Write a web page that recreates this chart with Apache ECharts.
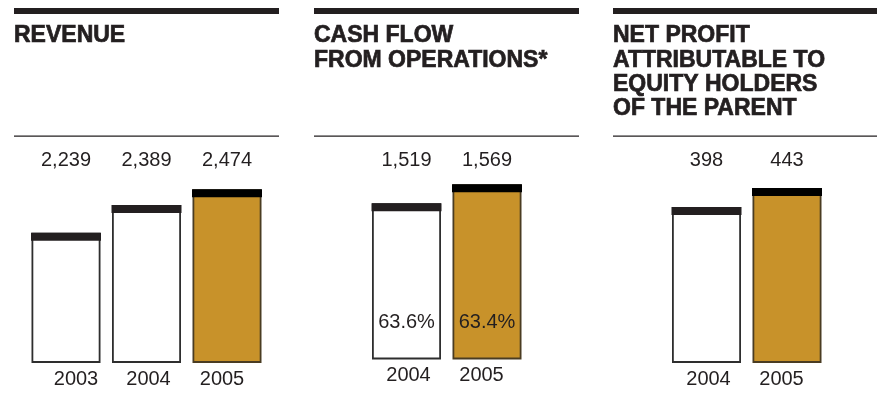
<!DOCTYPE html>
<html>
<head>
<meta charset="utf-8">
<script src="https://cdn.jsdelivr.net/npm/echarts@6/dist/echarts.min.js"></script>
<style>
  html, body { margin: 0; padding: 0; background: #fff; }
  #main { width: 877px; height: 394px; }
</style>
</head>
<body>
<div id="main"></div>
<script>
// Key figures, one small chart per measure
const revenueYears = ['2003', '2004', '2005'];
const revenueValues = [2239, 2389, 2474];

const cashFlowYears = ['2004', '2005'];
const cashFlowValues = [1519, 1569];
const cashFlowMargins = [63.6, 63.4];

const netProfitYears = ['2004', '2005'];
const netProfitValues = [398, 443];

const panelTitles = [
  'REVENUE',
  'CASH FLOW\nFROM OPERATIONS*',
  'NET PROFIT\nATTRIBUTABLE TO\nEQUITY HOLDERS\nOF THE PARENT'
];

const INK = '#231f20';
const GOLD = '#c8922a';
const GOLD_EDGE = '#4a3c22';
const FONT = 'Liberation Sans';
const H = 394;

const panels = [
  { years: revenueYears, values: revenueValues, left: 25.75, width: 241.5, base: 362,
    min: 1540, max: 2568, ruleX: 14, ruleW: 265, shifts: [10, 2, -5] },
  { years: cashFlowYears, values: cashFlowValues, left: 366.25, width: 161, base: 358.5,
    min: 1110, max: 1601, ruleX: 314, ruleW: 265, shifts: [2, -5.5], margins: cashFlowMargins },
  { years: netProfitYears, values: netProfitValues, left: 666.25, width: 161, base: 362,
    min: 31, max: 481, ruleX: 613, ruleW: 264, shifts: [2, -5.5] }
];

const fmt = v => v.toLocaleString('en-US');

const grid = [], xAxis = [], yAxis = [], series = [], title = [], graphic = [];

panels.forEach((p, i) => {
  const last = p.values.length - 1;
  const GRID_TOP = 172;
  grid.push({ left: p.left, width: p.width, top: GRID_TOP, bottom: H - p.base });

  // rich styles nudge each year label sideways
  const rich = {};
  p.shifts.forEach((s, k) => {
    rich['s' + k] = {
      fontFamily: FONT, fontSize: 20, color: INK,
      padding: s >= 0 ? [0, 0, 0, 2 * s] : [0, -2 * s, 0, 0]
    };
  });

  xAxis.push({
    type: 'category', gridIndex: i, data: p.years, position: 'bottom',
    axisLine: { show: false }, axisTick: { show: false },
    axisLabel: {
      margin: 7, interval: 0,
      formatter: (val, idx) => '{s' + idx + '|' + val + '}',
      rich
    }
  });
  xAxis.push({
    type: 'category', gridIndex: i, data: p.values.map(fmt), position: 'top',
    axisLine: { show: false }, axisTick: { show: false },
    axisLabel: { margin: 2, interval: 0, fontFamily: FONT, fontSize: 20, color: INK }
  });
  yAxis.push({ type: 'value', gridIndex: i, min: p.min, max: p.max, show: false, splitLine: { show: false } });

  series.push({
    type: 'bar', xAxisIndex: 2 * i, yAxisIndex: i, barWidth: 69, z: 2,
    data: p.values.map((v, k) => ({
      value: v,
      itemStyle: k === last
        ? { color: GOLD, borderColor: GOLD_EDGE, borderWidth: 1.8 }
        : { color: '#ffffff', borderColor: '#2e2e2e', borderWidth: 1.8 }
    })),
    label: p.margins ? {
      show: true, position: 'insideBottom', distance: 27,
      fontFamily: FONT, fontSize: 20, color: INK,
      formatter: q => p.margins[q.dataIndex].toFixed(1) + '%'
    } : { show: false }
  });
  // dark cap along the top of each bar
  series.push({
    type: 'pictorialBar', xAxisIndex: 2 * i, yAxisIndex: i, z: 3, silent: true,
    symbol: 'rect', symbolSize: [70, 8], symbolPosition: 'end',
    data: p.values.map((v, k) => ({
      value: v, itemStyle: { color: k === last ? '#000000' : INK }
    }))
  });

  title.push({
    text: panelTitles[i], left: p.ruleX - 5, top: 19,
    textStyle: {
      fontFamily: FONT, fontSize: 23, fontWeight: 'bold', color: INK, lineHeight: 24.3,
      textBorderColor: INK, textBorderWidth: 0.7
    }
  });

  graphic.push({ type: 'rect', shape: { x: p.ruleX, y: 8, width: p.ruleW, height: 6 }, style: { fill: INK } });
  graphic.push({ type: 'rect', shape: { x: p.ruleX, y: 135.5, width: p.ruleW, height: 1.2 }, style: { fill: INK } });
});

const chart = echarts.init(document.getElementById('main'));
chart.setOption({
  animation: false,
  backgroundColor: '#ffffff',
  title, grid, xAxis, yAxis, series, graphic
});
</script>
</body>
</html>
